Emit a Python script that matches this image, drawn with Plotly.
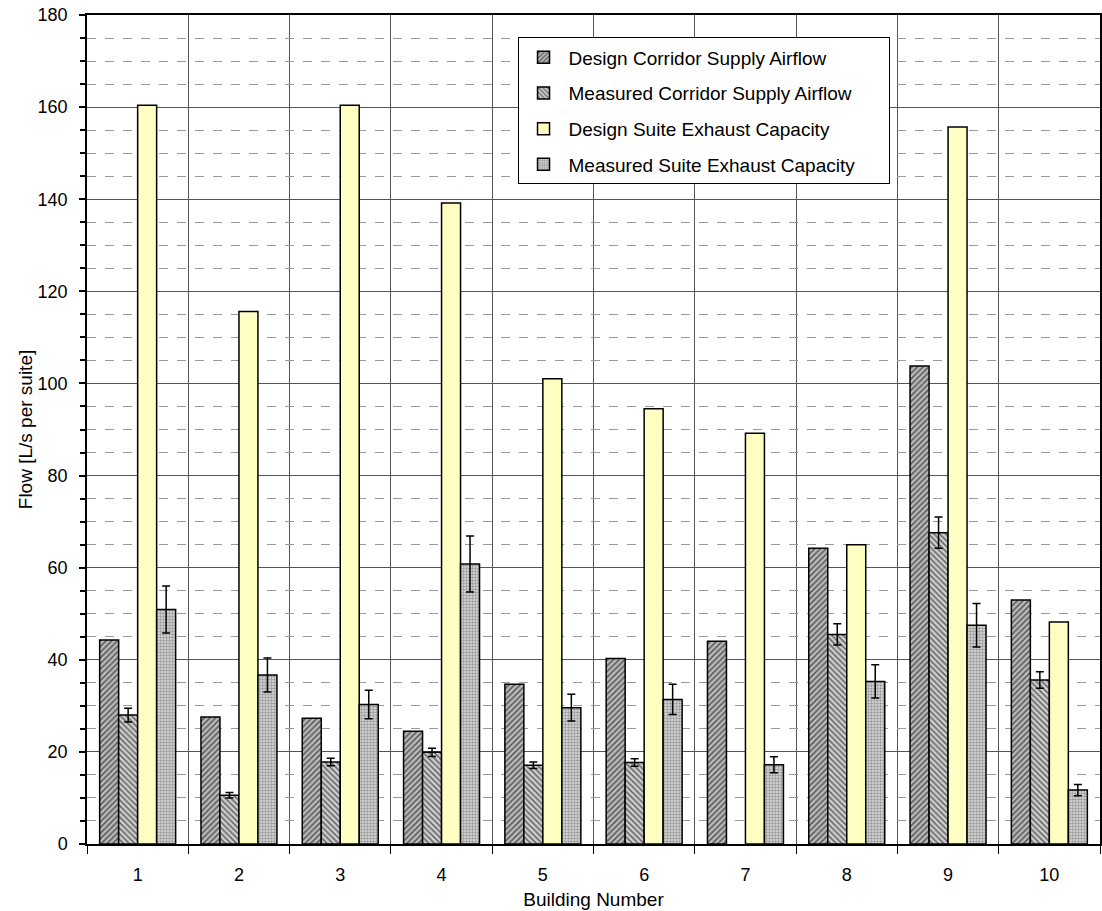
import plotly.graph_objects as go

buildings = [1, 2, 3, 4, 5, 6, 7, 8, 9, 10]

design_corridor = [44.3, 27.6, 27.3, 24.5, 34.7, 40.3, 44.0, 64.2, 103.8, 53.0]
measured_corridor = [28.0, 10.6, 17.8, 19.9, 17.1, 17.7, None, 45.5, 67.6, 35.6]
measured_corridor_err = [1.5, 0.6, 0.8, 0.9, 0.7, 0.8, 0, 2.3, 3.4, 1.8]
design_suite = [160.4, 115.6, 160.4, 139.2, 101.0, 94.5, 89.2, 65.0, 155.7, 48.2]
measured_suite = [50.9, 36.7, 30.3, 60.8, 29.6, 31.4, 17.2, 35.3, 47.5, 11.7]
measured_suite_err = [5.1, 3.7, 3.1, 6.1, 2.9, 3.3, 1.75, 3.6, 4.7, 1.2]

# non-breaking spaces widen the legend box on the right
pad = "\u00a0" * 6

outline = dict(color="black", width=1.5)
err_style = dict(type="data", visible=True, color="black", thickness=1.5, width=4)

fig = go.Figure()
fig.add_trace(go.Bar(
    x=buildings, y=design_corridor, name="Design Corridor Supply Airflow",
    legendgroup="g1",
    marker=dict(color="#ffffff", line=outline,
                pattern=dict(shape="/", fgcolor="#000000", bgcolor="#bdbdbd",
                             size=4, solidity=0.45)),
))
fig.add_trace(go.Bar(
    x=buildings, y=measured_corridor, name="Measured Corridor Supply Airflow" + pad,
    legendgroup="g2",
    marker=dict(color="#ffffff", line=outline,
                pattern=dict(shape="\\", fgcolor="#000000", bgcolor="#d0d0d0",
                             size=4, solidity=0.4)),
    error_y=dict(array=measured_corridor_err, **err_style),
))
fig.add_trace(go.Bar(
    x=buildings, y=design_suite, name="Design Suite Exhaust Capacity",
    legendgroup="g3",
    marker=dict(color="#ffffc4", line=outline),
))
fig.add_trace(go.Bar(
    x=buildings, y=measured_suite, name="Measured Suite Exhaust Capacity",
    legendgroup="g4",
    marker=dict(color="#ffffff", line=outline,
                pattern=dict(shape=".", fgcolor="#555555", bgcolor="#dcdcdc",
                             size=3, solidity=0.5)),
    error_y=dict(array=measured_suite_err, **err_style),
))

font_family = "Liberation Sans, Arial, sans-serif"

fig.update_layout(
    width=1102, height=911,
    margin=dict(l=87, r=2, t=15, b=67),
    paper_bgcolor="white", plot_bgcolor="white",
    barmode="group", bargap=0.25, bargroupgap=0,
    font=dict(family=font_family, size=18, color="black"),
    showlegend=True,
    legend=dict(
        x=0.425, y=0.973, xanchor="left", yanchor="top",
        bgcolor="white", bordercolor="black", borderwidth=1,
        font=dict(size=19, color="black"),
        tracegroupgap=8, itemwidth=40,
    ),
    xaxis=dict(
        range=[0.5, 10.5],
        tickmode="array", tickvals=buildings, ticktext=[str(b) for b in buildings],
        ticks="", showgrid=False, zeroline=False,
        ticklabelstandoff=14,
        showline=True, linecolor="black", linewidth=1.5, mirror=True,
        minor=dict(tick0=0.5, dtick=1, ticks="outside", ticklen=8,
                   tickcolor="black", showgrid=True, gridcolor="#555555",
                   gridwidth=1),
        title=dict(text="Building Number", font=dict(size=19), standoff=8),
        tickfont=dict(size=18),
        automargin=False,
    ),
    yaxis=dict(
        range=[0, 180], dtick=20, tick0=0,
        ticks="outside", ticklen=6, tickcolor="black", tickwidth=1.5,
        ticklabelstandoff=8,
        showgrid=True, gridcolor="#555555", gridwidth=1,
        zeroline=False,
        showline=True, linecolor="black", linewidth=1.5, mirror=True,
        minor=dict(dtick=5, ticks="outside", ticklen=5, tickcolor="black",
                   showgrid=True, gridcolor="#9a9a9a", griddash="dash",
                   gridwidth=1),
        title=dict(text="Flow [L/s per suite]", font=dict(size=19), standoff=0),
        tickfont=dict(size=18),
        automargin=False,
    ),
)

fig.write_html("out.html")
